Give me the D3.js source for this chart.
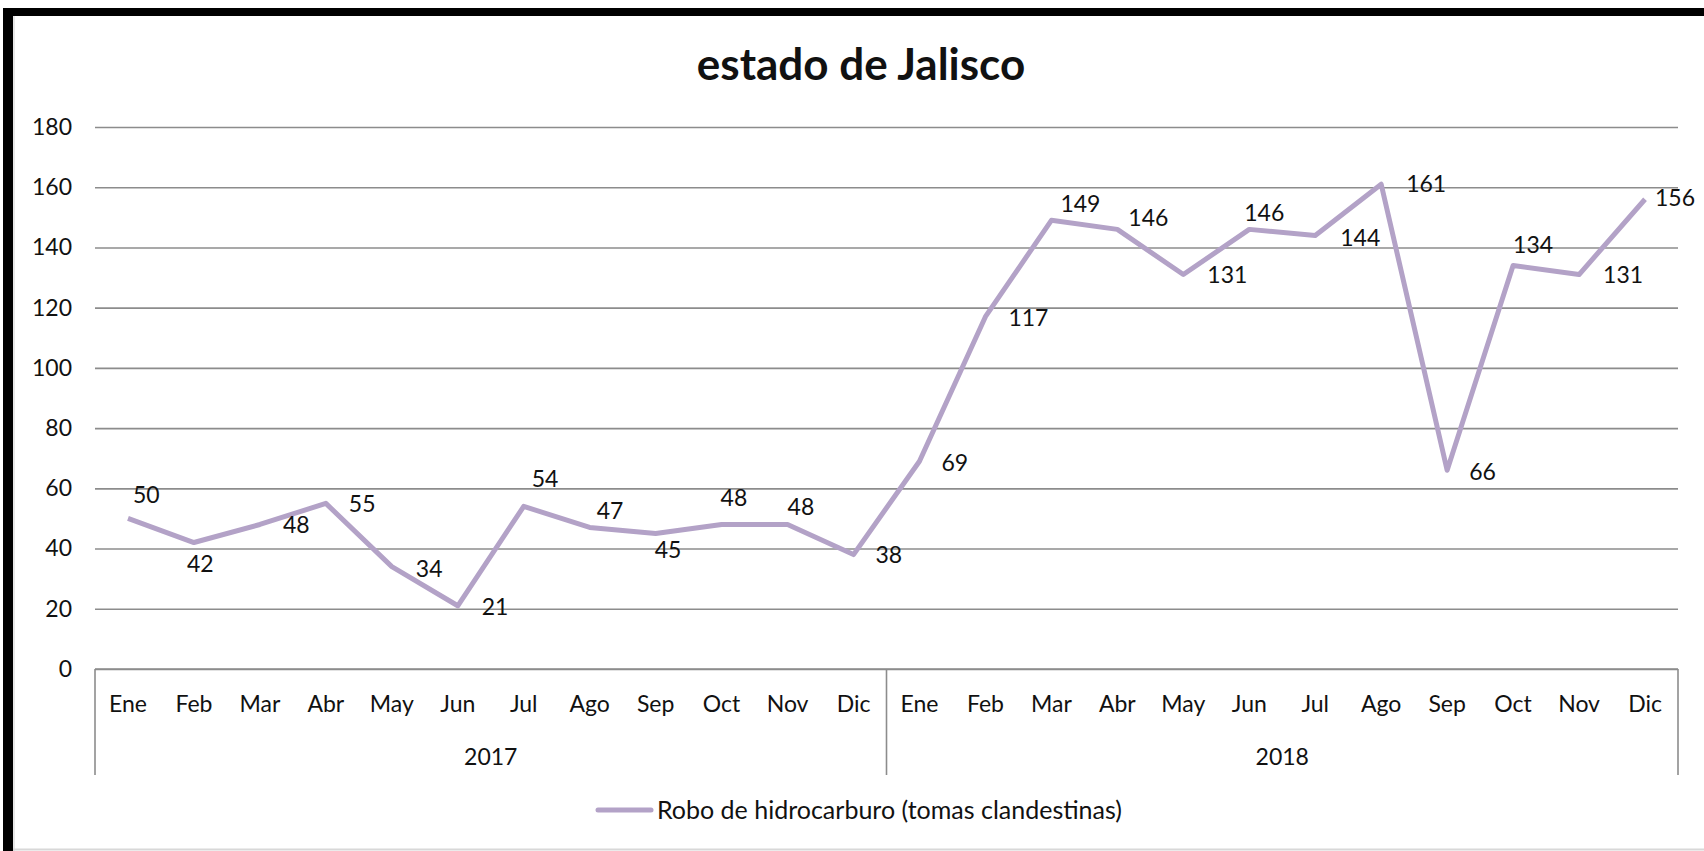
<!doctype html>
<html>
<head>
<meta charset="utf-8">
<title>estado de Jalisco</title>
<script src="https://d3js.org/d3.v7.min.js"></script>
<style>
  body { margin: 0; background: #fff; }
  text { font-family: Lato, "Noto Sans", sans-serif; fill: #111; }
</style>
</head>
<body>
<svg id="chart" width="1704" height="851"></svg>
<script>
// data
var YEARS = ["2017", "2018"];
var MONTHS = ["Ene", "Feb", "Mar", "Abr", "May", "Jun", "Jul", "Ago", "Sep", "Oct", "Nov", "Dic"];
var VALUES_2017 = [50, 42, 48, 55, 34, 21, 54, 47, 45, 48, 48, 38];
var VALUES_2018 = [69, 117, 149, 146, 131, 146, 144, 161, 66, 134, 131, 156];
var Y_TICKS = [0, 20, 40, 60, 80, 100, 120, 140, 160, 180];
var SERIES_NAME = "Robo de hidrocarburo (tomas clandestinas)";
var TITLE = "estado de Jalisco";

// where each data label sits next to its point (left edge dx, baseline dy)
var LABEL_OFFSETS = [
  [5, -15], [-7, 29], [23, 9], [23, 9], [24, 10], [24, 9],
  [8, -19], [7, -8], [-1, 24], [-1, -18], [0, -9], [22, 8],
  [22, 10], [23, 9], [9, -8], [11, -3], [24, 8], [-5, -8],
  [25, 11], [25, 8], [22, 10], [0, -13], [24, 8], [10, 7]
];

var LINE_COLOR = "#b3a2c7";
var GRID_COLOR = "#8c8c8c";

function drawChart() {
  var data = [];
  YEARS.forEach(function(yr, yi) {
    var vals = yi == 0 ? VALUES_2017 : VALUES_2018;
    MONTHS.forEach(function(m, mi) {
      data.push({ key: yr + "-" + m, year: yr, month: m, value: vals[mi] });
    });
  });

  var svg = d3.select("#chart");

  // frame
  svg.append("rect").attr("x", 3).attr("y", 8).attr("width", 1701).attr("height", 8).attr("fill", "#000");
  svg.append("rect").attr("x", 3).attr("y", 8).attr("width", 10).attr("height", 843).attr("fill", "#000");
  svg.append("line").attr("x1", 14).attr("x2", 14).attr("y1", 16).attr("y2", 851).attr("stroke", "#cfcfcf");
  svg.append("line").attr("x1", 13).attr("x2", 1704).attr("y1", 849.5).attr("y2", 849.5).attr("stroke", "#d8d8d8").attr("stroke-width", 2);

  var plotLeft = 95, plotRight = 1678, plotTop = 127, plotBottom = 669;

  var x = d3.scaleBand().domain(data.map(function(d) { return d.key; })).range([plotLeft, plotRight]);
  var xYear = d3.scaleBand().domain(YEARS).range([plotLeft, plotRight]);
  var y = d3.scaleLinear().domain([0, 180]).range([plotBottom, plotTop]);

  // title
  svg.append("text")
    .attr("x", 861).attr("y", 80)
    .attr("text-anchor", "middle")
    .style("font-size", "44px").style("font-weight", "bold")
    .text(TITLE);

  // y axis with gridlines
  var yAxis = svg.append("g")
    .attr("transform", "translate(" + plotLeft + ",0)")
    .call(d3.axisLeft(y).tickValues(Y_TICKS).tickSize(-(plotRight - plotLeft)).tickPadding(23));
  yAxis.select(".domain").remove();
  yAxis.selectAll(".tick line").attr("stroke", GRID_COLOR).attr("stroke-width", 1.6);
  yAxis.selectAll(".tick text").style("font-size", "23px").style("font-family", "Lato").attr("fill", "#111");

  // category axis: months
  var xAxis = svg.append("g")
    .attr("transform", "translate(0," + plotBottom + ")")
    .call(d3.axisBottom(x).tickSize(0).tickPadding(27).tickFormat(function(k) { return k.split("-")[1]; }));
  xAxis.select(".domain").remove();
  xAxis.selectAll(".tick text").style("font-size", "23px").style("font-family", "Lato").attr("fill", "#111");

  // year labels
  svg.append("g").selectAll("text")
    .data(YEARS).enter().append("text")
    .attr("x", function(d) { return xYear(d) + xYear.bandwidth() / 2; })
    .attr("y", 765)
    .attr("text-anchor", "middle")
    .style("font-size", "23px")
    .text(function(d) { return d; });

  // axis line and group separators
  svg.append("line").attr("x1", plotLeft).attr("x2", plotRight).attr("y1", plotBottom).attr("y2", plotBottom)
    .attr("stroke", GRID_COLOR).attr("stroke-width", 1.6);
  var seps = [plotLeft].concat(YEARS.map(function(d) { return xYear(d) + xYear.bandwidth(); }));
  svg.append("g").selectAll("line")
    .data(seps).enter().append("line")
    .attr("x1", function(d) { return d; }).attr("x2", function(d) { return d; })
    .attr("y1", plotBottom).attr("y2", 775)
    .attr("stroke", GRID_COLOR).attr("stroke-width", 1.6);

  // series line
  var line = d3.line()
    .x(function(d) { return x(d.key) + x.bandwidth() / 2; })
    .y(function(d) { return y(d.value); });

  svg.append("path")
    .datum(data)
    .attr("d", line)
    .attr("fill", "none")
    .attr("stroke", LINE_COLOR)
    .attr("stroke-width", 5)
    .attr("stroke-linejoin", "round");

  // data labels
  svg.append("g").selectAll("text")
    .data(data).enter().append("text")
    .attr("x", function(d, i) { return x(d.key) + x.bandwidth() / 2 + LABEL_OFFSETS[i][0]; })
    .attr("y", function(d, i) { return y(d.value) + LABEL_OFFSETS[i][1]; })
    .style("font-size", "23px")
    .text(function(d) { return d.value; });

  // legend
  var legend = svg.append("g").attr("transform", "translate(598,810)");
  legend.append("line").attr("x1", 0).attr("x2", 53).attr("y1", 0).attr("y2", 0)
    .attr("stroke", LINE_COLOR).attr("stroke-width", 5).attr("stroke-linecap", "round");
  legend.append("text").attr("x", 59).attr("y", 9)
    .style("font-size", "25px")
    .text(SERIES_NAME);
}

drawChart();
</script>
</body>
</html>
